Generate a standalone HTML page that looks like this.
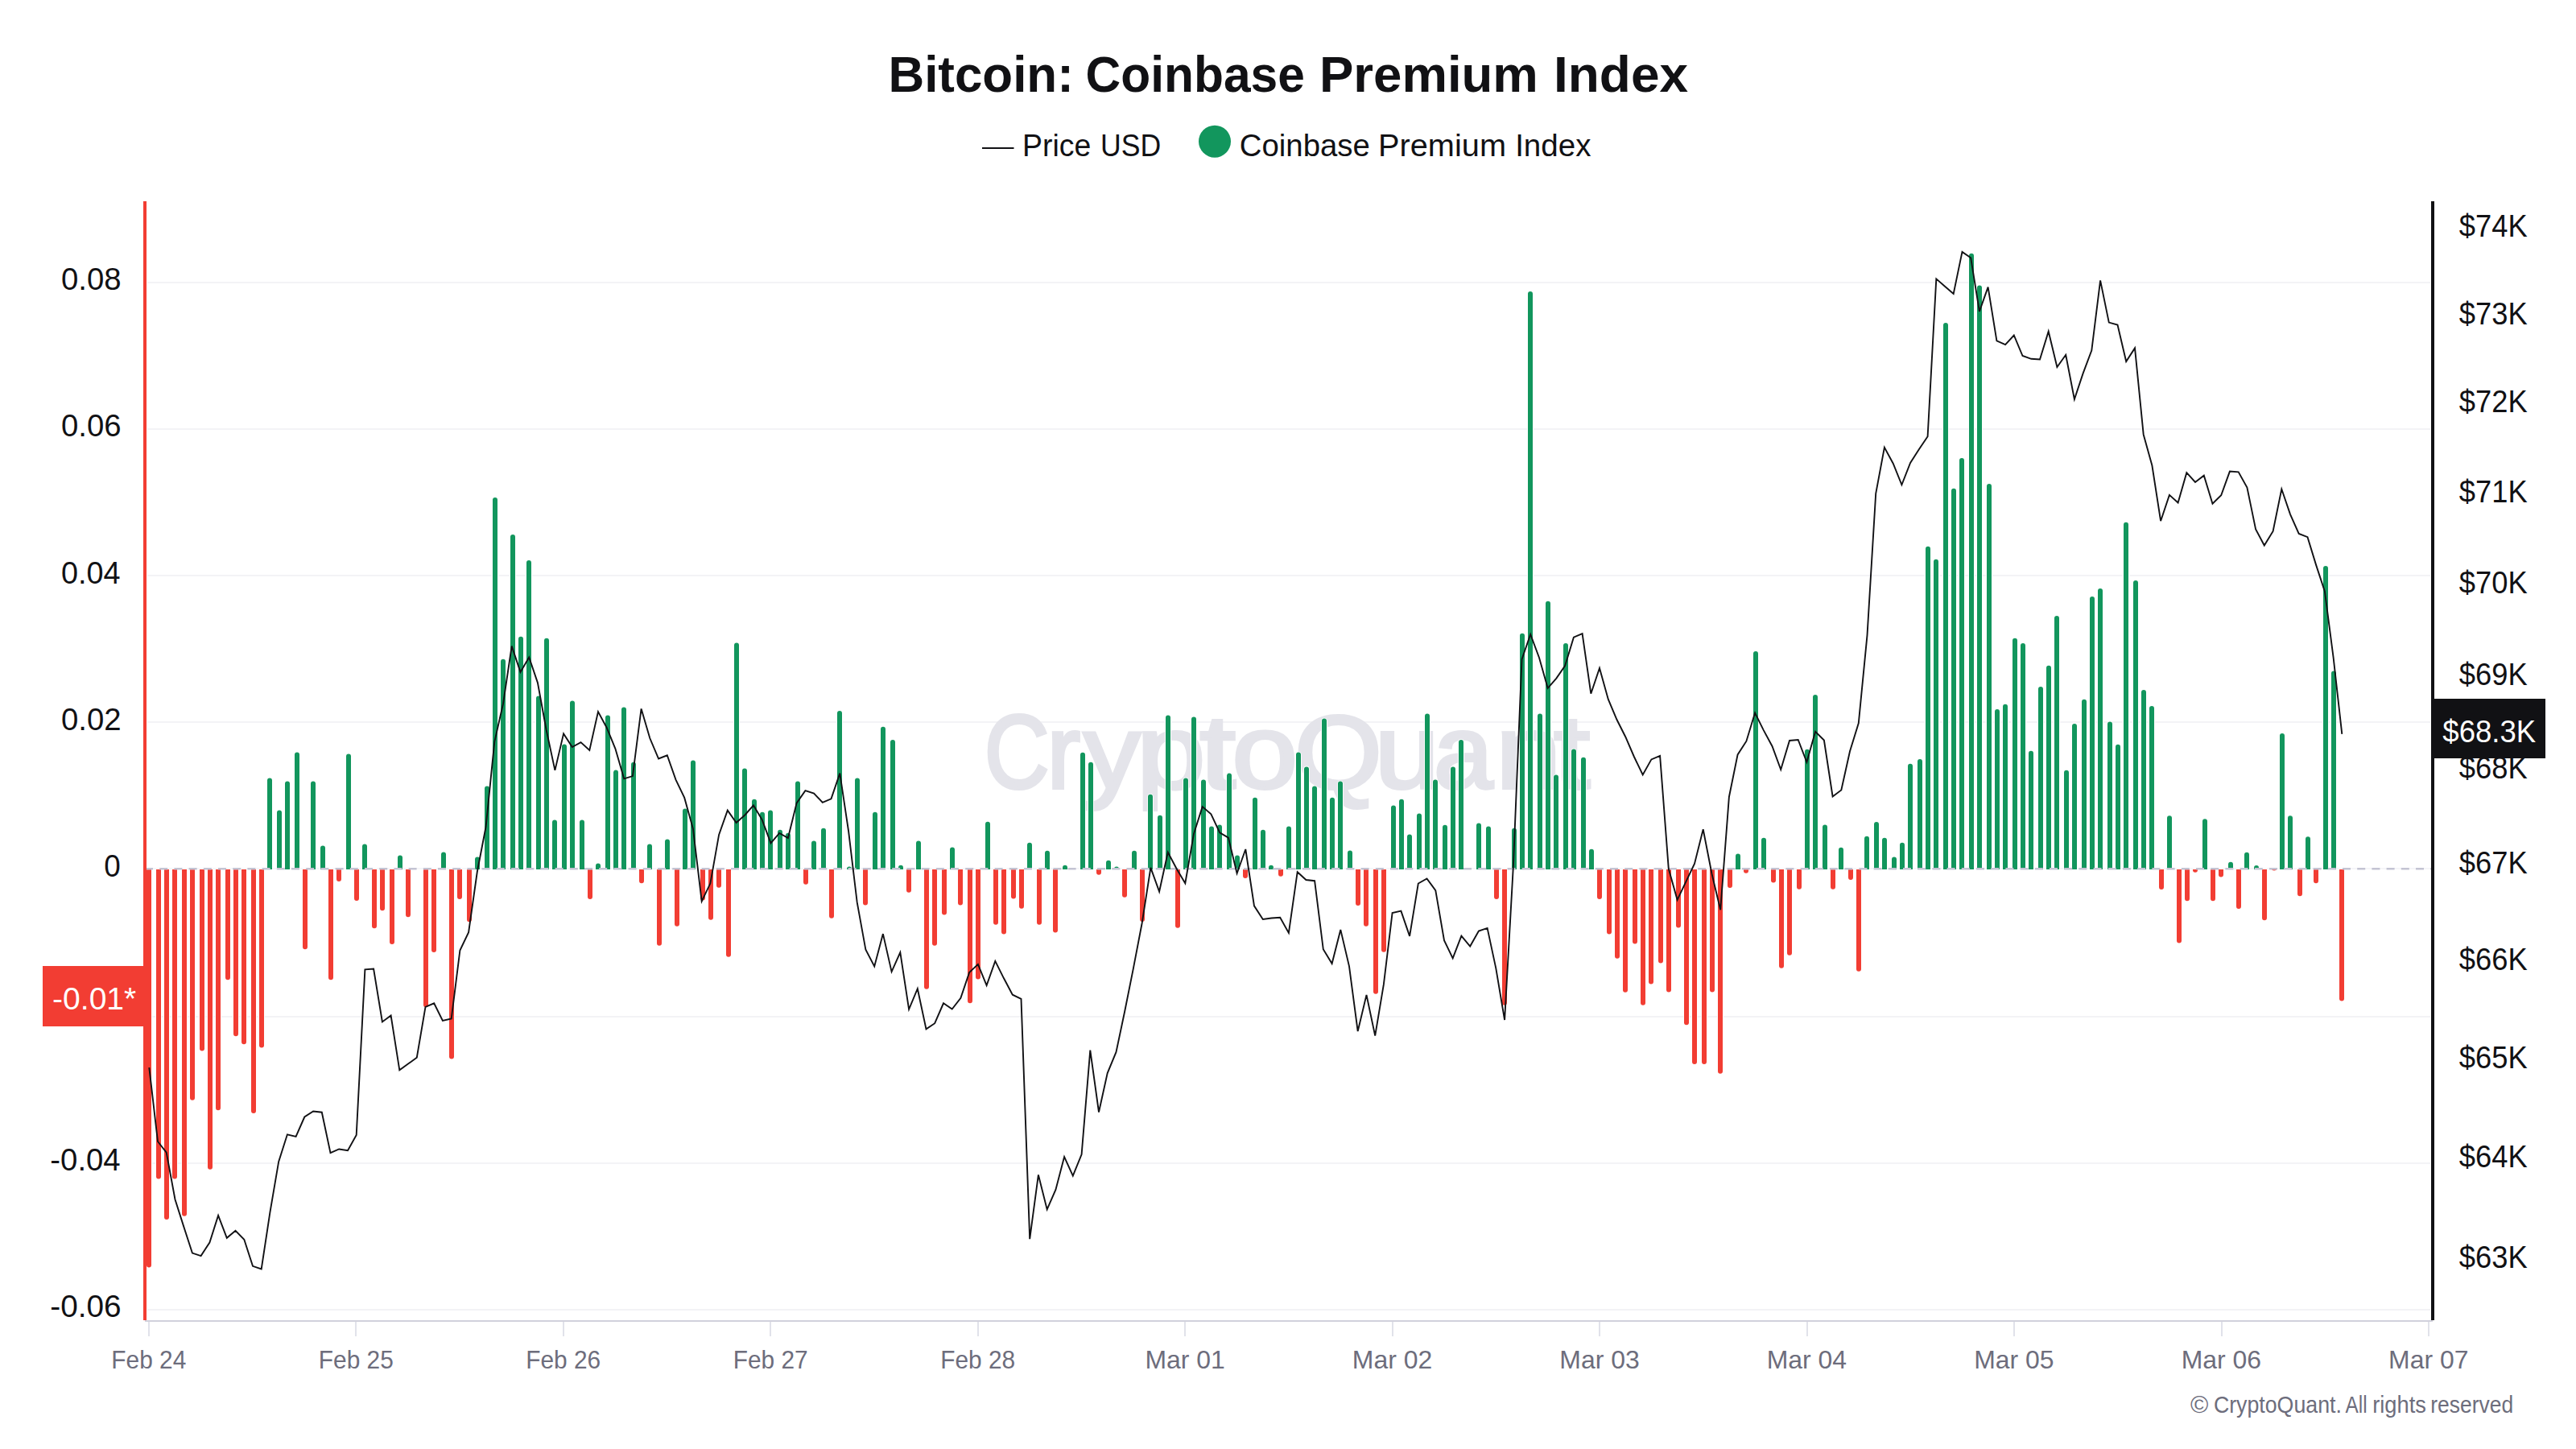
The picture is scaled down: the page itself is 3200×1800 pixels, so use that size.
<!DOCTYPE html>
<html lang="en"><head><meta charset="utf-8"><title>Bitcoin: Coinbase Premium Index</title>
<style>html,body{margin:0;padding:0;background:#fff}body{width:3200px;height:1800px;overflow:hidden}svg{display:block}text{font-family:"Liberation Sans",sans-serif}</style></head><body>
<svg width="3200" height="1800" viewBox="0 0 3200 1800">
<rect width="3200" height="1800" fill="#fff"/>
<g fill="#f3f3f6" shape-rendering="crispEdges">
<rect x="183" y="350" width="2836" height="2"/>
<rect x="183" y="532" width="2836" height="2"/>
<rect x="183" y="714" width="2836" height="2"/>
<rect x="183" y="896" width="2836" height="2"/>
<rect x="183" y="1262" width="2836" height="2"/>
<rect x="183" y="1444" width="2836" height="2"/>
<rect x="183" y="1626" width="2836" height="2"/>
<rect x="183" y="1078.4" width="2836" height="2" fill="#f6f6f9"/>
</g>
<text y="978.5" font-size="130" fill="#e4e4ea" stroke="#e4e4ea" stroke-width="4"><tspan x="1222.74" textLength="80.76" lengthAdjust="spacingAndGlyphs">C</tspan><tspan x="1300.43" textLength="41.51" lengthAdjust="spacingAndGlyphs">r</tspan><tspan x="1345.90" textLength="70.60" lengthAdjust="spacingAndGlyphs">y</tspan><tspan x="1411.72" textLength="85.66" lengthAdjust="spacingAndGlyphs">p</tspan><tspan x="1490.57" textLength="44.37" lengthAdjust="spacingAndGlyphs">t</tspan><tspan x="1530.46" textLength="81.51" lengthAdjust="spacingAndGlyphs">o</tspan><tspan x="1608.36" textLength="108.50" lengthAdjust="spacingAndGlyphs">Q</tspan><tspan x="1707.73" textLength="80.18" lengthAdjust="spacingAndGlyphs">u</tspan><tspan x="1780.91" textLength="73.58" lengthAdjust="spacingAndGlyphs">a</tspan><tspan x="1858.23" textLength="81.08" lengthAdjust="spacingAndGlyphs">n</tspan><tspan x="1930.36" textLength="44.89" lengthAdjust="spacingAndGlyphs">t</tspan></text>
<path fill="#f23d33" stroke="#fff" stroke-width="1.6" paint-order="stroke" d="M182 1080V1571.5A3 3 0 0 0 188 1571.5V1080ZM194 1080V1461.5A3 3 0 0 0 200 1461.5V1080ZM204 1080V1511.9A3 3 0 0 0 210 1511.9V1080ZM214 1080V1461.5A3 3 0 0 0 220 1461.5V1080ZM226 1080V1507.7A3 3 0 0 0 232 1507.7V1080ZM236 1080V1363.8A3 3 0 0 0 242 1363.8V1080ZM248 1080V1302.5A3 3 0 0 0 254 1302.5V1080ZM258 1080V1449.8A3 3 0 0 0 264 1449.8V1080ZM268 1080V1376.2A3 3 0 0 0 274 1376.2V1080ZM280 1080V1214.3A3 3 0 0 0 286 1214.3V1080ZM290 1080V1284.3A3 3 0 0 0 296 1284.3V1080ZM300 1080V1294.3A3 3 0 0 0 306 1294.3V1080ZM312 1080V1380.1A3 3 0 0 0 318 1380.1V1080ZM322 1080V1298.5A3 3 0 0 0 328 1298.5V1080ZM376 1080V1176.3A3 3 0 0 0 382 1176.3V1080ZM408 1080V1214.3A3 3 0 0 0 414 1214.3V1080ZM418 1080V1092.0A3 3 0 0 0 424 1092.0V1080ZM440 1080V1116.1A3 3 0 0 0 446 1116.1V1080ZM462 1080V1150.2A3 3 0 0 0 468 1150.2V1080ZM472 1080V1128.3A3 3 0 0 0 478 1128.3V1080ZM484 1080V1170.0A3 3 0 0 0 490 1170.0V1080ZM504 1080V1136.3A3 3 0 0 0 510 1136.3V1080ZM526 1080V1248.3A3 3 0 0 0 532 1248.3V1080ZM536 1080V1180.0A3 3 0 0 0 542 1180.0V1080ZM558 1080V1312.4A3 3 0 0 0 564 1312.4V1080ZM568 1080V1114.1A3 3 0 0 0 574 1114.1V1080ZM580 1080V1142.2A3 3 0 0 0 586 1142.2V1080ZM730 1080V1114.1A3 3 0 0 0 736 1114.1V1080ZM794 1080V1094.3A3 3 0 0 0 800 1094.3V1080ZM816 1080V1171.8A3 3 0 0 0 822 1171.8V1080ZM838 1080V1147.7A3 3 0 0 0 844 1147.7V1080ZM870 1080V1115.4A3 3 0 0 0 876 1115.4V1080ZM880 1080V1139.7A3 3 0 0 0 886 1139.7V1080ZM890 1080V1099.7A3 3 0 0 0 896 1099.7V1080ZM902 1080V1185.7A3 3 0 0 0 908 1185.7V1080ZM998 1080V1095.8A3 3 0 0 0 1004 1095.8V1080ZM1030 1080V1137.7A3 3 0 0 0 1036 1137.7V1080ZM1072 1080V1121.6A3 3 0 0 0 1078 1121.6V1080ZM1126 1080V1105.7A3 3 0 0 0 1132 1105.7V1080ZM1148 1080V1225.7A3 3 0 0 0 1154 1225.7V1080ZM1158 1080V1171.8A3 3 0 0 0 1164 1171.8V1080ZM1170 1080V1133.5A3 3 0 0 0 1176 1133.5V1080ZM1190 1080V1121.6A3 3 0 0 0 1196 1121.6V1080ZM1202 1080V1243.3A3 3 0 0 0 1208 1243.3V1080ZM1212 1080V1213.5A3 3 0 0 0 1218 1213.5V1080ZM1234 1080V1145.7A3 3 0 0 0 1240 1145.7V1080ZM1244 1080V1157.6A3 3 0 0 0 1250 1157.6V1080ZM1256 1080V1113.6A3 3 0 0 0 1262 1113.6V1080ZM1266 1080V1125.8A3 3 0 0 0 1272 1125.8V1080ZM1288 1080V1145.7A3 3 0 0 0 1294 1145.7V1080ZM1308 1080V1155.6A3 3 0 0 0 1314 1155.6V1080ZM1362 1080V1083.8A3 3 0 0 0 1368 1083.8V1080ZM1394 1080V1111.7A3 3 0 0 0 1400 1111.7V1080ZM1416 1080V1142.0A3 3 0 0 0 1422 1142.0V1080ZM1460 1080V1149.7A3 3 0 0 0 1466 1149.7V1080ZM1544 1080V1088.0A3 3 0 0 0 1550 1088.0V1080ZM1588 1080V1085.8A3 3 0 0 0 1594 1085.8V1080ZM1684 1080V1122.1A3 3 0 0 0 1690 1122.1V1080ZM1694 1080V1147.7A3 3 0 0 0 1700 1147.7V1080ZM1706 1080V1231.7A3 3 0 0 0 1712 1231.7V1080ZM1716 1080V1179.7A3 3 0 0 0 1722 1179.7V1080ZM1856 1080V1114.1A3 3 0 0 0 1862 1114.1V1080ZM1866 1080V1245.8A3 3 0 0 0 1872 1245.8V1080ZM1984 1080V1114.1A3 3 0 0 0 1990 1114.1V1080ZM1996 1080V1157.6A3 3 0 0 0 2002 1157.6V1080ZM2006 1080V1187.7A3 3 0 0 0 2012 1187.7V1080ZM2016 1080V1229.7A3 3 0 0 0 2022 1229.7V1080ZM2028 1080V1169.5A3 3 0 0 0 2034 1169.5V1080ZM2038 1080V1245.8A3 3 0 0 0 2044 1245.8V1080ZM2048 1080V1219.4A3 3 0 0 0 2054 1219.4V1080ZM2060 1080V1193.5A3 3 0 0 0 2066 1193.5V1080ZM2070 1080V1229.5A3 3 0 0 0 2076 1229.5V1080ZM2082 1080V1149.5A3 3 0 0 0 2088 1149.5V1080ZM2092 1080V1270.2A3 3 0 0 0 2098 1270.2V1080ZM2102 1080V1319.0A3 3 0 0 0 2108 1319.0V1080ZM2114 1080V1319.0A3 3 0 0 0 2120 1319.0V1080ZM2124 1080V1229.5A3 3 0 0 0 2130 1229.5V1080ZM2134 1080V1330.8A3 3 0 0 0 2140 1330.8V1080ZM2146 1080V1099.9A3 3 0 0 0 2152 1099.9V1080ZM2166 1080V1081.7A3 3 0 0 0 2172 1081.7V1080ZM2200 1080V1093.6A3 3 0 0 0 2206 1093.6V1080ZM2210 1080V1199.7A3 3 0 0 0 2216 1199.7V1080ZM2220 1080V1183.8A3 3 0 0 0 2226 1183.8V1080ZM2232 1080V1101.8A3 3 0 0 0 2238 1101.8V1080ZM2274 1080V1101.8A3 3 0 0 0 2280 1101.8V1080ZM2296 1080V1089.9A3 3 0 0 0 2302 1089.9V1080ZM2306 1080V1203.7A3 3 0 0 0 2312 1203.7V1080ZM2682 1080V1102.0A3 3 0 0 0 2688 1102.0V1080ZM2704 1080V1168.4A3 3 0 0 0 2710 1168.4V1080ZM2714 1080V1116.2A3 3 0 0 0 2720 1116.2V1080ZM2724 1080V1080.7A3 3 0 0 0 2730 1080.7V1080ZM2746 1080V1116.2A3 3 0 0 0 2752 1116.2V1080ZM2756 1080V1086.4A3 3 0 0 0 2762 1086.4V1080ZM2778 1080V1126.1A3 3 0 0 0 2784 1126.1V1080ZM2810 1080V1140.3A3 3 0 0 0 2816 1140.3V1080ZM2822 1080A3 1.4 0 0 0 2828 1080ZM2854 1080V1110.2A3 3 0 0 0 2860 1110.2V1080ZM2874 1080V1094.3A3 3 0 0 0 2880 1094.3V1080ZM2906 1080V1240.4A3 3 0 0 0 2912 1240.4V1080Z"/>
<path fill="#12965d" stroke="#fff" stroke-width="1.6" paint-order="stroke" d="M332 1080V969.6A3 3 0 0 1 338 969.6V1080ZM344 1080V1009.6A3 3 0 0 1 350 1009.6V1080ZM354 1080V973.6A3 3 0 0 1 360 973.6V1080ZM366 1080V937.5A3 3 0 0 1 372 937.5V1080ZM386 1080V973.6A3 3 0 0 1 392 973.6V1080ZM398 1080V1053.6A3 3 0 0 1 404 1053.6V1080ZM430 1080V939.5A3 3 0 0 1 436 939.5V1080ZM450 1080V1051.6A3 3 0 0 1 456 1051.6V1080ZM494 1080V1065.5A3 3 0 0 1 500 1065.5V1080ZM548 1080V1061.5A3 3 0 0 1 554 1061.5V1080ZM590 1080V1067.5A3 3 0 0 1 596 1067.5V1080ZM602 1080V979.5A3 3 0 0 1 608 979.5V1080ZM612 1080V620.9A3 3 0 0 1 618 620.9V1080ZM622 1080V821.8A3 3 0 0 1 628 821.8V1080ZM634 1080V667.1A3 3 0 0 1 640 667.1V1080ZM644 1080V793.7A3 3 0 0 1 650 793.7V1080ZM654 1080V698.9A3 3 0 0 1 660 698.9V1080ZM666 1080V867.5A3 3 0 0 1 672 867.5V1080ZM676 1080V795.7A3 3 0 0 1 682 795.7V1080ZM686 1080V1021.5A3 3 0 0 1 692 1021.5V1080ZM698 1080V927.6A3 3 0 0 1 704 927.6V1080ZM708 1080V873.4A3 3 0 0 1 714 873.4V1080ZM720 1080V1021.5A3 3 0 0 1 726 1021.5V1080ZM740 1080V1075.4A3 3 0 0 1 746 1075.4V1080ZM752 1080V891.6A3 3 0 0 1 758 891.6V1080ZM762 1080V959.6A3 3 0 0 1 768 959.6V1080ZM772 1080V881.6A3 3 0 0 1 778 881.6V1080ZM784 1080V949.7A3 3 0 0 1 790 949.7V1080ZM804 1080V1051.6A3 3 0 0 1 810 1051.6V1080ZM826 1080V1045.6A3 3 0 0 1 832 1045.6V1080ZM848 1080V1007.6A3 3 0 0 1 854 1007.6V1080ZM858 1080V947.5A3 3 0 0 1 864 947.5V1080ZM912 1080V801.6A3 3 0 0 1 918 801.6V1080ZM922 1080V957.4A3 3 0 0 1 928 957.4V1080ZM934 1080V995.7A3 3 0 0 1 940 995.7V1080ZM944 1080V1011.8A3 3 0 0 1 950 1011.8V1080ZM954 1080V1009.6A3 3 0 0 1 960 1009.6V1080ZM966 1080V1033.7A3 3 0 0 1 972 1033.7V1080ZM976 1080V1037.7A3 3 0 0 1 982 1037.7V1080ZM988 1080V973.6A3 3 0 0 1 994 973.6V1080ZM1008 1080V1047.6A3 3 0 0 1 1014 1047.6V1080ZM1020 1080V1031.7A3 3 0 0 1 1026 1031.7V1080ZM1040 1080V885.9A3 3 0 0 1 1046 885.9V1080ZM1052 1080V1079.6A3 3 0 0 1 1058 1079.6V1080ZM1062 1080V969.6A3 3 0 0 1 1068 969.6V1080ZM1084 1080V1011.8A3 3 0 0 1 1090 1011.8V1080ZM1094 1080V905.7A3 3 0 0 1 1100 905.7V1080ZM1106 1080V921.9A3 3 0 0 1 1112 921.9V1080ZM1116 1080V1077.7A3 3 0 0 1 1122 1077.7V1080ZM1138 1080V1047.6A3 3 0 0 1 1144 1047.6V1080ZM1180 1080V1055.5A3 3 0 0 1 1186 1055.5V1080ZM1224 1080V1023.7A3 3 0 0 1 1230 1023.7V1080ZM1276 1080V1049.8A3 3 0 0 1 1282 1049.8V1080ZM1298 1080V1059.8A3 3 0 0 1 1304 1059.8V1080ZM1320 1080V1077.7A3 3 0 0 1 1326 1077.7V1080ZM1342 1080V937.8A3 3 0 0 1 1348 937.8V1080ZM1352 1080V949.7A3 3 0 0 1 1358 949.7V1080ZM1374 1080V1071.7A3 3 0 0 1 1380 1071.7V1080ZM1384 1080V1079.6A3 3 0 0 1 1390 1079.6V1080ZM1406 1080V1059.8A3 3 0 0 1 1412 1059.8V1080ZM1426 1080V989.7A3 3 0 0 1 1432 989.7V1080ZM1438 1080V1015.8A3 3 0 0 1 1444 1015.8V1080ZM1448 1080V891.6A3 3 0 0 1 1454 891.6V1080ZM1470 1080V969.6A3 3 0 0 1 1476 969.6V1080ZM1480 1080V893.6A3 3 0 0 1 1486 893.6V1080ZM1492 1080V971.6A3 3 0 0 1 1498 971.6V1080ZM1502 1080V1029.5A3 3 0 0 1 1508 1029.5V1080ZM1512 1080V1027.5A3 3 0 0 1 1518 1027.5V1080ZM1524 1080V963.6A3 3 0 0 1 1530 963.6V1080ZM1534 1080V1065.5A3 3 0 0 1 1540 1065.5V1080ZM1556 1080V993.7A3 3 0 0 1 1562 993.7V1080ZM1566 1080V1033.7A3 3 0 0 1 1572 1033.7V1080ZM1576 1080V1077.7A3 3 0 0 1 1582 1077.7V1080ZM1598 1080V1029.5A3 3 0 0 1 1604 1029.5V1080ZM1610 1080V937.5A3 3 0 0 1 1616 937.5V1080ZM1620 1080V955.4A3 3 0 0 1 1626 955.4V1080ZM1630 1080V979.5A3 3 0 0 1 1636 979.5V1080ZM1642 1080V895.5A3 3 0 0 1 1648 895.5V1080ZM1652 1080V993.7A3 3 0 0 1 1658 993.7V1080ZM1662 1080V973.6A3 3 0 0 1 1668 973.6V1080ZM1674 1080V1059.5A3 3 0 0 1 1680 1059.5V1080ZM1728 1080V1003.6A3 3 0 0 1 1734 1003.6V1080ZM1738 1080V995.7A3 3 0 0 1 1744 995.7V1080ZM1748 1080V1039.6A3 3 0 0 1 1754 1039.6V1080ZM1760 1080V1013.6A3 3 0 0 1 1766 1013.6V1080ZM1770 1080V889.6A3 3 0 0 1 1776 889.6V1080ZM1780 1080V971.6A3 3 0 0 1 1786 971.6V1080ZM1792 1080V1027.7A3 3 0 0 1 1798 1027.7V1080ZM1802 1080V955.4A3 3 0 0 1 1808 955.4V1080ZM1812 1080V921.9A3 3 0 0 1 1818 921.9V1080ZM1834 1080V1025.5A3 3 0 0 1 1840 1025.5V1080ZM1846 1080V1029.5A3 3 0 0 1 1852 1029.5V1080ZM1878 1080V1031.7A3 3 0 0 1 1884 1031.7V1080ZM1888 1080V789.7A3 3 0 0 1 1894 789.7V1080ZM1898 1080V365.0A3 3 0 0 1 1904 365.0V1080ZM1910 1080V889.6A3 3 0 0 1 1916 889.6V1080ZM1920 1080V749.7A3 3 0 0 1 1926 749.7V1080ZM1930 1080V965.6A3 3 0 0 1 1936 965.6V1080ZM1942 1080V801.9A3 3 0 0 1 1948 801.9V1080ZM1952 1080V933.6A3 3 0 0 1 1958 933.6V1080ZM1964 1080V943.7A3 3 0 0 1 1970 943.7V1080ZM1974 1080V1057.8A3 3 0 0 1 1980 1057.8V1080ZM2156 1080V1063.6A3 3 0 0 1 2162 1063.6V1080ZM2178 1080V811.9A3 3 0 0 1 2184 811.9V1080ZM2188 1080V1043.7A3 3 0 0 1 2194 1043.7V1080ZM2242 1080V933.7A3 3 0 0 1 2248 933.7V1080ZM2252 1080V865.9A3 3 0 0 1 2258 865.9V1080ZM2264 1080V1027.6A3 3 0 0 1 2270 1027.6V1080ZM2284 1080V1055.7A3 3 0 0 1 2290 1055.7V1080ZM2316 1080V1041.8A3 3 0 0 1 2322 1041.8V1080ZM2328 1080V1023.9A3 3 0 0 1 2334 1023.9V1080ZM2338 1080V1043.7A3 3 0 0 1 2344 1043.7V1080ZM2350 1080V1067.6A3 3 0 0 1 2356 1067.6V1080ZM2360 1080V1049.7A3 3 0 0 1 2366 1049.7V1080ZM2370 1080V951.8A3 3 0 0 1 2376 951.8V1080ZM2382 1080V945.9A3 3 0 0 1 2388 945.9V1080ZM2392 1080V681.8A3 3 0 0 1 2398 681.8V1080ZM2402 1080V697.7A3 3 0 0 1 2408 697.7V1080ZM2414 1080V404.1A3 3 0 0 1 2420 404.1V1080ZM2424 1080V609.8A3 3 0 0 1 2430 609.8V1080ZM2434 1080V572.0A3 3 0 0 1 2440 572.0V1080ZM2446 1080V317.8A3 3 0 0 1 2452 317.8V1080ZM2456 1080V357.6A3 3 0 0 1 2462 357.6V1080ZM2468 1080V604.1A3 3 0 0 1 2474 604.1V1080ZM2478 1080V884.0A3 3 0 0 1 2484 884.0V1080ZM2488 1080V877.8A3 3 0 0 1 2494 877.8V1080ZM2500 1080V795.8A3 3 0 0 1 2506 795.8V1080ZM2510 1080V802.0A3 3 0 0 1 2516 802.0V1080ZM2520 1080V935.7A3 3 0 0 1 2526 935.7V1080ZM2532 1080V855.9A3 3 0 0 1 2538 855.9V1080ZM2542 1080V829.8A3 3 0 0 1 2548 829.8V1080ZM2552 1080V768.0A3 3 0 0 1 2558 768.0V1080ZM2564 1080V959.8A3 3 0 0 1 2570 959.8V1080ZM2574 1080V901.9A3 3 0 0 1 2580 901.9V1080ZM2586 1080V871.8A3 3 0 0 1 2592 871.8V1080ZM2596 1080V743.9A3 3 0 0 1 2602 743.9V1080ZM2606 1080V733.9A3 3 0 0 1 2612 733.9V1080ZM2618 1080V899.6A3 3 0 0 1 2624 899.6V1080ZM2628 1080V927.7A3 3 0 0 1 2634 927.7V1080ZM2638 1080V651.7A3 3 0 0 1 2644 651.7V1080ZM2650 1080V724.0A3 3 0 0 1 2656 724.0V1080ZM2660 1080V859.9A3 3 0 0 1 2666 859.9V1080ZM2670 1080V880.0A3 3 0 0 1 2676 880.0V1080ZM2692 1080V1016.2A3 3 0 0 1 2698 1016.2V1080ZM2736 1080V1020.2A3 3 0 0 1 2742 1020.2V1080ZM2768 1080V1073.7A3 3 0 0 1 2774 1073.7V1080ZM2788 1080V1061.8A3 3 0 0 1 2794 1061.8V1080ZM2800 1080V1078.0A3 3 0 0 1 2806 1078.0V1080ZM2832 1080V914.1A3 3 0 0 1 2838 914.1V1080ZM2842 1080V1016.2A3 3 0 0 1 2848 1016.2V1080ZM2864 1080V1042.2A3 3 0 0 1 2870 1042.2V1080ZM2886 1080V706.0A3 3 0 0 1 2892 706.0V1080ZM2896 1080V836.6A3 3 0 0 1 2902 836.6V1080Z"/>
<line x1="180" y1="1079.3" x2="3020" y2="1079.3" stroke="#c4c4d3" stroke-width="2.5" stroke-dasharray="10 8.2"/>
<polyline fill="none" stroke="#111114" stroke-width="1.9" stroke-linejoin="miter" points="185.3,1326.1 196.0,1418.0 206.7,1431.7 217.5,1490.0 228.2,1523.6 238.9,1556.6 249.6,1560.1 260.4,1543.5 271.1,1509.9 281.8,1537.8 292.5,1528.8 303.3,1539.8 314.0,1572.8 324.7,1576.5 335.4,1506.2 346.2,1442.9 356.9,1409.3 367.6,1412.0 378.3,1387.5 389.1,1380.5 399.8,1381.7 410.5,1432.2 421.2,1427.5 432.0,1429.2 442.7,1410.0 453.4,1204.3 464.1,1203.6 474.9,1269.4 485.6,1261.5 496.3,1329.3 507.0,1321.6 517.8,1313.7 528.5,1250.8 539.2,1246.3 549.9,1268.0 560.7,1265.5 571.4,1180.5 582.1,1158.1 592.8,1083.0 603.6,1027.0 614.3,921.4 625.0,874.2 635.7,802.6 646.5,834.9 657.2,816.5 667.9,848.1 678.6,906.5 689.4,956.9 700.1,911.4 710.8,928.1 721.5,922.1 732.3,932.0 743.0,884.1 753.7,904.0 764.4,930.1 775.2,967.3 785.9,964.1 796.6,880.4 807.3,917.0 818.1,942.5 828.8,938.3 839.5,968.6 850.2,990.9 860.9,1029.4 871.7,1119.6 882.4,1097.3 893.1,1036.9 903.8,1006.6 914.6,1022.0 925.3,1012.5 936.0,1000.4 946.7,1018.3 957.5,1047.3 968.2,1034.9 978.9,1041.1 989.6,997.6 1000.4,982.2 1011.1,985.5 1021.8,996.9 1032.5,992.4 1043.3,960.6 1054.0,1032.0 1064.7,1120.9 1075.4,1179.8 1086.2,1200.4 1096.9,1160.1 1107.6,1207.1 1118.3,1183.0 1129.1,1253.8 1139.8,1228.2 1150.5,1278.4 1161.2,1271.2 1172.0,1246.3 1182.7,1253.5 1193.4,1239.9 1204.1,1208.1 1214.9,1197.9 1225.6,1224.0 1236.3,1193.9 1247.0,1215.3 1257.8,1235.7 1268.5,1240.9 1279.2,1539.1 1289.9,1459.4 1300.7,1502.4 1311.4,1478.0 1322.1,1437.0 1332.8,1460.6 1343.6,1434.0 1354.3,1304.6 1365.0,1381.5 1375.7,1333.1 1386.5,1306.9 1397.2,1256.3 1407.9,1202.9 1418.6,1147.0 1429.4,1077.9 1440.1,1107.5 1450.8,1058.8 1461.5,1079.0 1472.3,1097.2 1483.0,1035.7 1493.7,1002.1 1504.4,1011.3 1515.2,1034.4 1525.9,1040.6 1536.6,1085.0 1547.3,1055.0 1558.0,1125.3 1568.8,1142.0 1579.5,1140.5 1590.2,1139.8 1600.9,1158.9 1611.7,1083.2 1622.4,1093.0 1633.1,1094.2 1643.8,1179.3 1654.6,1197.1 1665.3,1154.9 1676.0,1200.4 1686.7,1281.1 1697.5,1235.9 1708.2,1286.6 1718.9,1222.7 1729.6,1134.0 1740.4,1131.6 1751.1,1162.9 1761.8,1097.5 1772.5,1091.4 1783.3,1106.2 1794.0,1168.1 1804.7,1190.4 1815.4,1162.6 1826.2,1175.5 1836.9,1156.6 1847.6,1152.9 1858.3,1202.9 1869.1,1267.0 1879.8,1077.0 1890.5,819.0 1901.2,788.0 1912.0,817.0 1922.7,854.8 1933.4,842.6 1944.1,827.0 1954.9,791.7 1965.6,787.2 1976.3,861.7 1987.0,829.9 1997.8,868.7 2008.5,894.0 2019.2,915.2 2029.9,940.0 2040.7,962.4 2051.4,943.4 2062.1,938.9 2072.8,1079.3 2083.6,1117.8 2094.3,1095.4 2105.0,1073.0 2115.7,1030.3 2126.5,1085.5 2137.2,1130.2 2147.9,990.0 2158.6,937.4 2169.4,920.7 2180.1,885.5 2190.8,907.1 2201.5,927.0 2212.2,956.0 2223.0,920.0 2233.7,919.0 2244.4,946.8 2255.1,908.8 2265.9,919.5 2276.6,989.5 2287.3,981.4 2298.0,933.2 2308.8,898.4 2319.5,789.1 2330.2,613.0 2340.9,555.8 2351.7,575.7 2362.4,602.3 2373.1,575.0 2383.8,558.3 2394.6,542.2 2405.3,346.4 2416.0,355.8 2426.7,365.0 2437.5,312.9 2448.2,320.3 2458.9,386.9 2469.6,356.6 2480.4,423.4 2491.1,428.1 2501.8,416.5 2512.5,442.0 2523.3,445.8 2534.0,446.5 2544.7,411.7 2555.4,456.0 2566.2,440.8 2576.9,496.0 2587.6,463.9 2598.3,435.3 2609.1,348.4 2619.8,400.6 2630.5,403.5 2641.2,449.0 2652.0,432.4 2662.7,539.7 2673.4,578.3 2684.1,647.2 2694.9,614.9 2705.6,624.5 2716.3,587.2 2727.0,599.0 2737.8,590.7 2748.5,625.7 2759.2,615.2 2769.9,585.6 2780.7,586.3 2791.4,605.5 2802.1,657.4 2812.8,677.5 2823.6,659.9 2834.3,607.5 2845.0,638.8 2855.7,663.0 2866.5,667.1 2877.2,702.1 2887.9,734.7 2898.6,816.7 2909.3,911.9"/>
<g shape-rendering="crispEdges">
<rect x="180" y="1640" width="2842" height="2" fill="#d1d1dc"/>
<g fill="#e1e2ea">
<rect x="184" y="1642" width="2" height="18"/>
<rect x="441" y="1642" width="2" height="18"/>
<rect x="699" y="1642" width="2" height="18"/>
<rect x="956" y="1642" width="2" height="18"/>
<rect x="1214" y="1642" width="2" height="18"/>
<rect x="1471" y="1642" width="2" height="18"/>
<rect x="1729" y="1642" width="2" height="18"/>
<rect x="1986" y="1642" width="2" height="18"/>
<rect x="2244" y="1642" width="2" height="18"/>
<rect x="2501" y="1642" width="2" height="18"/>
<rect x="2759" y="1642" width="2" height="18"/>
<rect x="3016" y="1642" width="2" height="18"/>
</g>
<rect x="178" y="250" width="4" height="1390" fill="#f23d33"/>
<rect x="3020" y="250" width="4" height="1390" fill="#111114"/>
<rect x="53" y="1200" width="127" height="74.5" fill="#f23d33"/>
<rect x="3022" y="868.4" width="140" height="73.6" fill="#111114"/>
</g>
<text transform="translate(76.02 360.30) scale(0.9834 1)" font-size="39" fill="#111114">0.08</text>
<text transform="translate(76.02 542.30) scale(0.9834 1)" font-size="39" fill="#111114">0.06</text>
<text transform="translate(76.03 724.80) scale(0.9701 1)" font-size="39" fill="#111114">0.04</text>
<text transform="translate(76.02 906.80) scale(0.9834 1)" font-size="39" fill="#111114">0.02</text>
<text transform="translate(129.16 1089.30) scale(0.9450 1)" font-size="39" fill="#111114">0</text>
<text transform="translate(62.32 1454.30) scale(0.9828 1)" font-size="39" fill="#111114">-0.04</text>
<text transform="translate(62.31 1636.30) scale(0.9942 1)" font-size="39" fill="#111114">-0.06</text>
<text transform="translate(3054.80 294.30) scale(0.9312 1)" font-size="39" fill="#111114">$74K</text>
<text transform="translate(3054.80 402.61) scale(0.9312 1)" font-size="39" fill="#111114">$73K</text>
<text transform="translate(3054.80 512.42) scale(0.9312 1)" font-size="39" fill="#111114">$72K</text>
<text transform="translate(3054.80 623.76) scale(0.9312 1)" font-size="39" fill="#111114">$71K</text>
<text transform="translate(3054.80 736.67) scale(0.9312 1)" font-size="39" fill="#111114">$70K</text>
<text transform="translate(3054.80 851.22) scale(0.9312 1)" font-size="39" fill="#111114">$69K</text>
<text transform="translate(3054.80 967.44) scale(0.9312 1)" font-size="39" fill="#111114">$68K</text>
<text transform="translate(3054.80 1085.37) scale(0.9312 1)" font-size="39" fill="#111114">$67K</text>
<text transform="translate(3054.80 1205.09) scale(0.9312 1)" font-size="39" fill="#111114">$66K</text>
<text transform="translate(3054.80 1326.63) scale(0.9312 1)" font-size="39" fill="#111114">$65K</text>
<text transform="translate(3054.80 1450.05) scale(0.9312 1)" font-size="39" fill="#111114">$64K</text>
<text transform="translate(3054.80 1575.42) scale(0.9312 1)" font-size="39" fill="#111114">$63K</text>
<text transform="translate(138.33 1699.75) scale(0.9336 1)" font-size="32" fill="#6d6d7c">Feb 24</text>
<text transform="translate(395.79 1699.75) scale(0.9336 1)" font-size="32" fill="#6d6d7c">Feb 25</text>
<text transform="translate(653.24 1699.75) scale(0.9336 1)" font-size="32" fill="#6d6d7c">Feb 26</text>
<text transform="translate(910.70 1699.75) scale(0.9336 1)" font-size="32" fill="#6d6d7c">Feb 27</text>
<text transform="translate(1168.15 1699.75) scale(0.9336 1)" font-size="32" fill="#6d6d7c">Feb 28</text>
<text transform="translate(1422.38 1699.75) scale(0.9980 1)" font-size="32" fill="#6d6d7c">Mar 01</text>
<text transform="translate(1679.83 1699.75) scale(0.9980 1)" font-size="32" fill="#6d6d7c">Mar 02</text>
<text transform="translate(1937.29 1699.75) scale(0.9980 1)" font-size="32" fill="#6d6d7c">Mar 03</text>
<text transform="translate(2194.74 1699.75) scale(0.9980 1)" font-size="32" fill="#6d6d7c">Mar 04</text>
<text transform="translate(2452.19 1699.75) scale(0.9980 1)" font-size="32" fill="#6d6d7c">Mar 05</text>
<text transform="translate(2709.65 1699.75) scale(0.9980 1)" font-size="32" fill="#6d6d7c">Mar 06</text>
<text transform="translate(2967.10 1699.75) scale(0.9980 1)" font-size="32" fill="#6d6d7c">Mar 07</text>
<text transform="translate(65.10 1254.00) scale(1.0010 1)" font-size="39" fill="#fff">-0.01*</text>
<text transform="translate(3034.30 922.00) scale(0.9377 1)" font-size="39" fill="#fff">$68.3K</text>
<text y="114" font-size="63" fill="#111114" font-weight="700"><tspan x="1103.47" textLength="230.30" lengthAdjust="spacingAndGlyphs">Bitcoin:</tspan> <tspan x="1348.58" textLength="272.28" lengthAdjust="spacingAndGlyphs">Coinbase</tspan> <tspan x="1638.97" textLength="271.88" lengthAdjust="spacingAndGlyphs">Premium</tspan> <tspan x="1930.04" textLength="167.00" lengthAdjust="spacingAndGlyphs">Index</tspan></text>
<text y="193.9" font-size="39" fill="#111114"><tspan x="1270.12" textLength="85.20" lengthAdjust="spacingAndGlyphs">Price</tspan> <tspan x="1366.96" textLength="75.20" lengthAdjust="spacingAndGlyphs">USD</tspan></text>
<text y="193.9" font-size="39" fill="#111114"><tspan x="1539.82" textLength="162.05" lengthAdjust="spacingAndGlyphs">Coinbase</tspan> <tspan x="1712.04" textLength="158.99" lengthAdjust="spacingAndGlyphs">Premium</tspan> <tspan x="1882.14" textLength="94.27" lengthAdjust="spacingAndGlyphs">Index</tspan></text>
<text y="1755" font-size="29" fill="#6d6d7c"><tspan x="2721.00" textLength="22.28" lengthAdjust="spacingAndGlyphs">©</tspan> <tspan x="2749.88" textLength="159.02" lengthAdjust="spacingAndGlyphs">CryptoQuant.</tspan> <tspan x="2913.60" textLength="27.01" lengthAdjust="spacingAndGlyphs">All</tspan> <tspan x="2947.16" textLength="66.71" lengthAdjust="spacingAndGlyphs">rights</tspan> <tspan x="3019.29" textLength="102.84" lengthAdjust="spacingAndGlyphs">reserved</tspan></text>
<rect x="1220" y="183" width="39.5" height="2" fill="#111114"/>
<circle cx="1509" cy="175.7" r="20" fill="#12965d"/>
</svg></body></html>
